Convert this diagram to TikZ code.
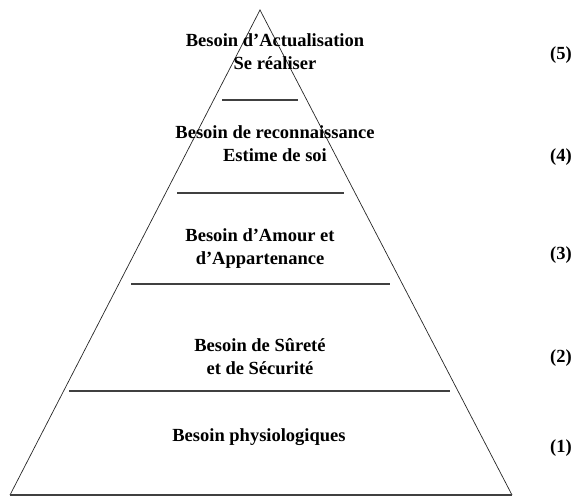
\documentclass[tikz,border=0pt]{standalone}
\usepackage{fontspec}
\setmainfont{Liberation Serif}
\usepackage{tikz}
\usetikzlibrary{positioning}
\tikzset{
  level/.style={font=\fontsize{18.5}{23.5}\selectfont\bfseries, align=center, inner sep=0pt},
  num/.style={font=\fontsize{18.5}{20}\selectfont\bfseries, inner sep=0pt},
  sepline/.style={line width=1.2pt, black!75},
}

\begin{document}
\begin{tikzpicture}[x=1pt, y=-1pt]
  \useasboundingbox (0,0) rectangle (577,497);

  % Pyramid outline
  \coordinate (apex) at (260,10);
  \coordinate (baseL) at (10,495);
  \coordinate (baseR) at (512,495);
  \draw[line width=0.7pt, black!85] (baseL) -- (apex) -- (baseR);
  \draw[sepline] (baseL) -- (baseR);

  % Separators between the levels
  \foreach \y/\l/\r in {100/222/298, 193/177/344, 284/131/390, 391/69/450}
    \draw[sepline] (\l,\y) -- (\r,\y);

  % Levels
  \node[level] (act) at (275,51.5) {Besoin d’Actualisation\\Se réaliser};
  \node[level] (estime) at (275,143.5) {Besoin de reconnaissance\\Estime de soi};
  \node[level] (amour) at (260,248.5) {Besoin d’Amour et\\d’Appartenance};
  \node[level] (surete) at (260,356.5) {Besoin de Sûreté\\et de Sécurité};
  \node[level] (physio) at (259,437) {Besoin physiologiques};

  % Level numbers
  \node[num] (n5) at (561,55) {(5)};
  \node[num] (n4) at (561,157) {(4)};
  \node[num] (n3) at (561,255) {(3)};
  \node[num] (n2) at (561,358) {(2)};
  \node[num] (n1) at (561,448) {(1)};
\end{tikzpicture}
\end{document}
